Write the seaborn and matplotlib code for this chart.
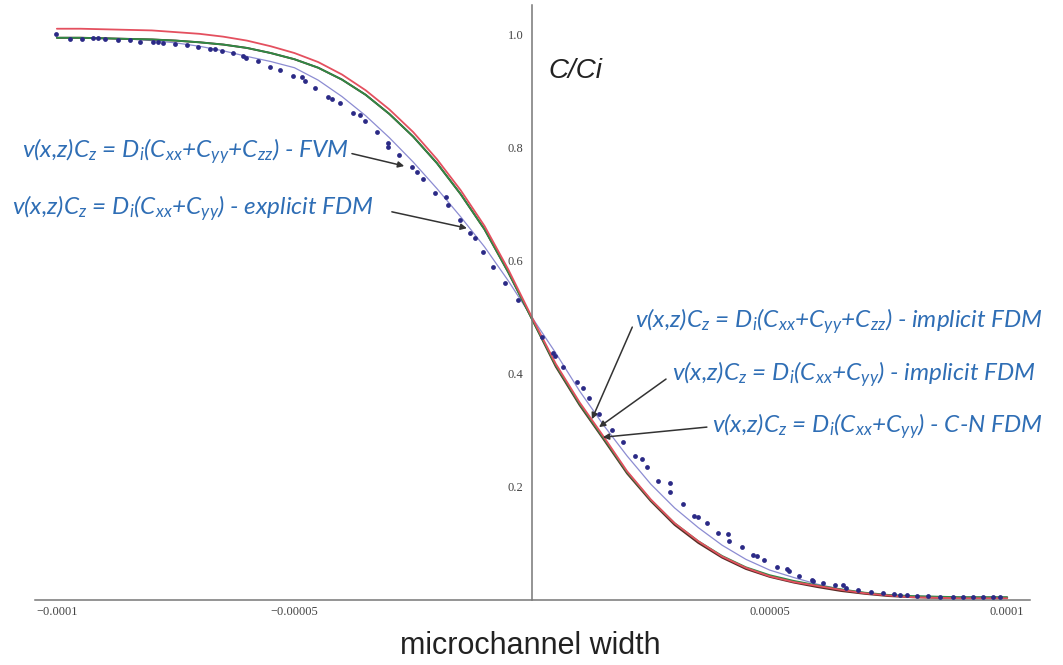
import numpy as np
import pandas as pd
import seaborn as sns
import matplotlib.pyplot as plt

# x positions of the sampled curves, in units of 1e-5 m
x_grid = [-10, -9.5, -9, -8.5, -8, -7.5, -7, -6.5, -6, -5.5, -5, -4.5, -4, -3.5, -3, -2.5, -2, -1.5, -1, -0.5,
          0, 0.5, 1, 1.5, 2, 2.5, 3, 3.5, 4, 4.5, 5, 5.5, 6, 6.5, 7, 7.5, 8, 8.5, 9, 9.5, 10]

red_curve = [1.011, 1.011, 1.010, 1.009, 1.008, 1.005, 1.002, 0.997, 0.990, 0.980, 0.968, 0.952, 0.930, 0.902,
             0.868, 0.828, 0.780, 0.725, 0.662, 0.585, 0.500, 0.418, 0.350, 0.290, 0.228, 0.178, 0.136, 0.104,
             0.077, 0.057, 0.042, 0.032, 0.025, 0.018, 0.012, 0.008, 0.005, 0.004, 0.003, 0.003, 0.003]

green_curve = [0.995, 0.995, 0.994, 0.993, 0.992, 0.990, 0.987, 0.983, 0.977, 0.968, 0.957, 0.942, 0.921, 0.894,
               0.860, 0.820, 0.773, 0.718, 0.656, 0.580, 0.497, 0.415, 0.347, 0.287, 0.226, 0.177, 0.136, 0.104,
               0.078, 0.058, 0.044, 0.034, 0.026, 0.019, 0.013, 0.009, 0.007, 0.006, 0.005, 0.005, 0.005]

dark_curve = [0.995, 0.995, 0.994, 0.993, 0.992, 0.990, 0.987, 0.983, 0.977, 0.968, 0.957, 0.942, 0.921, 0.894,
              0.860, 0.820, 0.773, 0.718, 0.656, 0.580, 0.497, 0.413, 0.345, 0.285, 0.224, 0.175, 0.133, 0.101,
              0.075, 0.055, 0.041, 0.031, 0.023, 0.016, 0.011, 0.007, 0.005, 0.004, 0.004, 0.004, 0.004]

lavender_curve = [0.995, 0.995, 0.994, 0.993, 0.990, 0.986, 0.980, 0.972, 0.962, 0.953, 0.942, 0.920, 0.891, 0.857,
                  0.818, 0.775, 0.728, 0.678, 0.625, 0.565, 0.500, 0.437, 0.370, 0.310, 0.255, 0.205, 0.163, 0.128,
                  0.097, 0.072, 0.053, 0.040, 0.028, 0.019, 0.013, 0.009, 0.007, 0.006, 0.005, 0.005, 0.005]

# measured points (dots)
dots_x = [-10.02, -9.73, -9.48, -9.24, -9.13, -8.99, -8.71, -8.46, -8.25, -7.97, -7.87, -7.76, -7.52, -7.27,
          -7.03, -6.78, -6.67, -6.53, -6.29, -6.08, -6.01, -5.76, -5.52, -5.31, -5.02, -4.85, -4.78, -4.57,
          -4.29, -4.22, -4.04, -3.76, -3.62, -3.52, -3.27, -3.03, -3.03, -2.81, -2.53, -2.43, -2.29, -2.04,
          -1.80, -1.77, -1.52, -1.31, -1.20, -1.03, -0.82, -0.57, -0.29, 0.20, 0.45, 0.48, 0.66, 0.94, 1.08,
          1.19, 1.42, 1.68, 1.92, 2.17, 2.31, 2.41, 2.66, 2.91, 2.91, 3.17, 3.40, 3.50, 3.68, 3.92, 4.13, 4.15,
          4.41, 4.66, 4.73, 4.88, 5.15, 5.36, 5.40, 5.61, 5.89, 5.92, 6.13, 6.38, 6.54, 6.61, 6.87, 7.14, 7.38,
          7.61, 7.75, 7.89, 8.10, 8.34, 8.59, 8.87, 9.08, 9.29, 9.50, 9.71, 9.85]
dots_y = [1.001, 0.993, 0.993, 0.994, 0.994, 0.993, 0.991, 0.991, 0.988, 0.987, 0.987, 0.985, 0.984, 0.982,
          0.979, 0.975, 0.975, 0.972, 0.968, 0.963, 0.960, 0.954, 0.944, 0.938, 0.928, 0.925, 0.918, 0.906,
          0.891, 0.886, 0.880, 0.862, 0.858, 0.848, 0.829, 0.808, 0.801, 0.788, 0.767, 0.758, 0.745, 0.720,
          0.714, 0.699, 0.673, 0.649, 0.640, 0.616, 0.590, 0.561, 0.531, 0.466, 0.437, 0.431, 0.413, 0.385, 0.375,
          0.357, 0.330, 0.301, 0.280, 0.254, 0.250, 0.235, 0.211, 0.207, 0.192, 0.170, 0.149, 0.147, 0.136, 0.119,
          0.117, 0.105, 0.093, 0.080, 0.078, 0.070, 0.059, 0.054, 0.051, 0.042, 0.035, 0.034, 0.030, 0.027, 0.027,
          0.022, 0.017, 0.014, 0.012, 0.011, 0.009, 0.008, 0.007, 0.007, 0.006, 0.006, 0.005, 0.005, 0.005, 0.005,
          0.005]

x_ticks = [-1e-4, -5e-5, 5e-5, 1e-4]
x_tick_labels = ["\u22120.0001", "\u22120.00005", "0.00005", "0.0001"]
y_ticks = [0.2, 0.4, 0.6, 0.8, 1.0]
y_tick_labels = ["0.2", "0.4", "0.6", "0.8", "1.0"]

eq_labels = [
    r"v(x,z)C$_z$ = D$_i$(C$_{xx}$+C$_{yy}$+C$_{zz}$) - FVM",
    r"v(x,z)C$_z$ = D$_i$(C$_{xx}$+C$_{yy}$) - explicit FDM",
    r"v(x,z)C$_z$ = D$_i$(C$_{xx}$+C$_{yy}$+C$_{zz}$) - implicit FDM",
    r"v(x,z)C$_z$ = D$_i$(C$_{xx}$+C$_{yy}$) - implicit FDM",
    r"v(x,z)C$_z$ = D$_i$(C$_{xx}$+C$_{yy}$) - C-N FDM",
]

sns.set_theme(style="white")
plt.rcParams["mathtext.fontset"] = "custom"
plt.rcParams["mathtext.it"] = "Lato:italic"
plt.rcParams["mathtext.rm"] = "Lato:italic"

xs = np.array(x_grid) * 1e-5
curves = pd.DataFrame({"x": xs, "red": red_curve, "green": green_curve,
                       "dark": dark_curve, "lavender": lavender_curve})

fig = plt.figure(figsize=(10.63, 6.65), dpi=100)
ax = fig.add_axes([35 / 1063, 65 / 665, 995 / 1063, 595 / 665])

sns.lineplot(data=curves, x="x", y="lavender", color="#8c8cd2", lw=0.9, ax=ax)
sns.lineplot(data=curves, x="x", y="dark", color="#5b2b25", lw=1.4, ax=ax)
sns.lineplot(data=curves, x="x", y="green", color="#2f8a45", lw=1.3, ax=ax)
sns.lineplot(data=curves, x="x", y="red", color="#e4505f", lw=1.3, ax=ax)
sns.scatterplot(x=np.array(dots_x) * 1e-5, y=dots_y, color="#2b2a86", s=12, linewidth=0, ax=ax, zorder=5)

ax.set_xlim(-10.46e-5, 10.48e-5)
ax.set_ylim(0, 1.053)
ax.spines["left"].set_position(("data", 0))
ax.spines["bottom"].set_position(("data", 0))
for s in ["top", "right"]:
    ax.spines[s].set_visible(False)
for s in ["left", "bottom"]:
    ax.spines[s].set_color("#777777")
    ax.spines[s].set_linewidth(1.1)

ax.set_xticks(x_ticks)
ax.set_xticklabels(x_tick_labels)
ax.set_xticks(np.array([-9, -8, -7, -6, -4, -3, -2, -1, 1, 2, 3, 4, 6, 7, 8, 9]) * 1e-5, minor=True)
ax.set_yticks(y_ticks)
ax.set_yticklabels(y_tick_labels)
ax.set_yticks([0.05, 0.1, 0.15, 0.25, 0.3, 0.35, 0.45, 0.5, 0.55, 0.65, 0.7, 0.75, 0.85, 0.9, 0.95, 1.05], minor=True)
ax.tick_params(which="both", direction="in", color="#666666", width=1, labelcolor="#444444", labelsize=9)
ax.tick_params(which="major", length=4)
ax.tick_params(which="minor", length=2.5)
ax.tick_params(axis="x", pad=4)
ax.tick_params(axis="y", pad=6)
for lab in ax.get_xticklabels() + ax.get_yticklabels():
    lab.set_fontfamily("Liberation Serif")
ax.set_xlabel("")
ax.set_ylabel("")

ax.text(0.905e-5, 0.936, "C/Ci", fontsize=20, family="Liberation Sans", style="italic",
        color="#222222", ha="center", va="center")
fig.text(530 / 1063, 19 / 665, "microchannel width", fontsize=22, family="Liberation Sans",
         color="#222222", ha="center", va="center")

# text start (x in 1e-5, y) and arrow start / tip
text_pos = [(-10.74, 0.784), (-10.95, 0.683), (2.17, 0.483), (2.95, 0.389), (3.79, 0.297)]
arrow_from = [(-3.79, 0.790), (-2.95, 0.687), (2.11, 0.483), (2.82, 0.391), (3.68, 0.306)]
arrow_to = [(-2.69, 0.768), (-1.37, 0.658), (1.26, 0.320), (1.41, 0.306), (1.49, 0.288)]

for lab, tp, a0, a1 in zip(eq_labels, text_pos, arrow_from, arrow_to):
    ax.text(tp[0] * 1e-5, tp[1], lab, fontsize=17.5, family="Lato", style="italic",
            color="#2f6eb5", ha="left", va="baseline")
    ax.annotate("", xy=(a1[0] * 1e-5, a1[1]), xytext=(a0[0] * 1e-5, a0[1]),
                arrowprops=dict(arrowstyle="-|>", color="#333333", lw=1.1,
                                shrinkA=0, shrinkB=0, mutation_scale=9))

fig.savefig("out.png", dpi=100, facecolor="white")
